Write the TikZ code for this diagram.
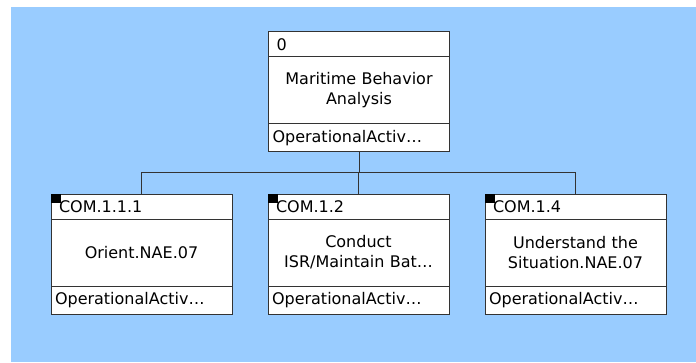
\documentclass[tikz,border=0pt]{standalone}
\usepackage{fontspec}
\setmainfont{DejaVu Sans}
\usetikzlibrary{positioning}
\definecolor{skyback}{HTML}{99CCFF}
\definecolor{edgegray}{HTML}{333333}
\tikzset{
    boxPart/.style={draw=edgegray, fill=white, line width=1pt, outer sep=0pt, inner ysep=0pt,
        font=\fontsize{16}{20}\selectfont},
    boxHead/.style={boxPart, minimum height=25pt, text width=165pt, inner xsep=8pt, align=left},
    boxBody/.style={boxPart, minimum height=67pt, text width=171pt, inner xsep=5pt, align=center},
    boxFoot/.style={boxPart, minimum height=28pt, text width=173pt, inner xsep=4pt, align=left},
    wire/.style={draw=edgegray, line width=1pt}
}
\begin{document}
\begin{tikzpicture}[x=1pt, y=1pt]
    \useasboundingbox (0,0) rectangle (696,362);
    \fill[skyback] (11,0) rectangle (696,355);
    % parent activity
    \node[boxHead] (topH) at (359,317.5) {0};
    \node[boxBody, below=0pt of topH] (topB) {Maritime Behavior\\Analysis};
    \node[boxFoot, below=0pt of topB] (topF) {OperationalActiv…};
    % child activities
    \node[boxHead] (c1H) at (141.5,155.5) {COM.1.1.1};
    \node[boxBody, below=0pt of c1H] (c1B) {Orient.NAE.07};
    \node[boxFoot, below=0pt of c1B] (c1F) {OperationalActiv…};
    \node[boxHead] (c2H) at (358.5,155.5) {COM.1.2};
    \node[boxBody, below=0pt of c2H] (c2B) {Conduct\\ISR/Maintain Bat…};
    \node[boxFoot, below=0pt of c2B] (c2F) {OperationalActiv…};
    \node[boxHead] (c3H) at (575.5,155.5) {COM.1.4};
    \node[boxBody, below=0pt of c3H] (c3B) {Understand the\\Situation.NAE.07};
    \node[boxFoot, below=0pt of c3B] (c3F) {OperationalActiv…};
    \foreach \c in {c1H,c2H,c3H}
        \fill[black] (\c.north west) rectangle ++(10,-9);
    % tree connectors
    \path (topF.south) ++(0,-21) coordinate (bus);
    \draw[wire] (topF.south) -- (bus);
    \draw[wire] (bus) -| (c1H.north);
    \draw[wire] (bus) -| (c2H.north);
    \draw[wire] (bus) -| (c3H.north);
\end{tikzpicture}
\end{document}
